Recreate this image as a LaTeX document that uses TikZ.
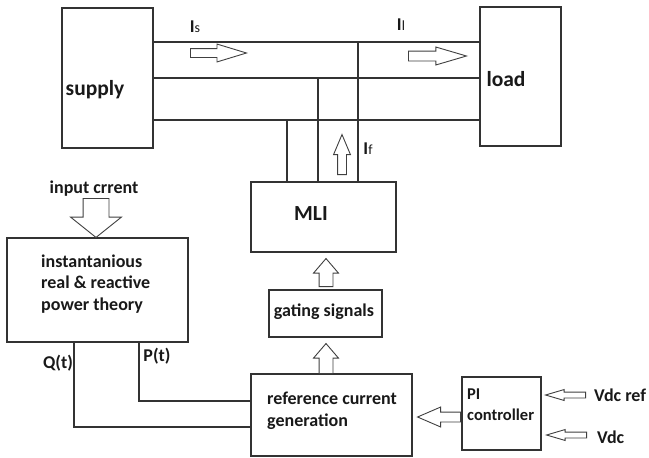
\documentclass[tikz,border=0pt]{standalone}
\usepackage{fontspec}
\setmainfont{Carlito}
\usetikzlibrary{shapes.arrows}
\tikzset{
  box/.style={draw=black!80, line width=1.2pt, anchor=north west, inner sep=0pt, outer sep=0pt},
  wire/.style={draw=black!80, line width=1.1pt},
  lbl/.style={font=\bfseries\fontsize{18}{21.7}\selectfont, inner sep=0pt, text=black!90},
  big/.style={font=\bfseries\fontsize{21.5}{24}\selectfont, inner sep=0pt, text=black!90},
  hollow/.style n args={4}{single arrow, draw=black!75, line width=0.9pt, fill=white,
    inner xsep=0pt, inner ysep=#1, single arrow head extend=#2,
    single arrow tip angle=#3, minimum height=#4, anchor=tail}
}
\begin{document}
\begin{tikzpicture}[x=1pt, y=-1pt]
  \useasboundingbox[fill=white] (0,0) rectangle (649,458);
  % blocks
  \node[box, minimum width=91pt, minimum height=140pt] (supply) at (62,8) {};
  \node[box, minimum width=81pt, minimum height=139pt] (load) at (480,7) {};
  \node[box, minimum width=145pt, minimum height=70pt] (mli) at (251,182) {};
  \node[box, minimum width=113pt, minimum height=47pt] (gate) at (269,290) {};
  \node[box, minimum width=161pt, minimum height=82pt] (ref) at (251,374) {};
  \node[box, minimum width=79pt, minimum height=73pt] (pi) at (462,377) {};
  \node[box, minimum width=181pt, minimum height=104pt] (theory) at (7,238) {};
  % texts
  \node[big] (supplytxt) at (95,90) {supply};
  \node[big] (loadtxt) at (506,79) {load};
  \node[big] (mlitxt) at (311,214) {MLI};
  \node[lbl, align=left, anchor=west] (theorytxt) at (41,284) {instantanious\\real \& reactive\\power theory};
  \node[lbl] (gatetxt) at (324,312) {gating signals};
  \node[lbl, align=left, anchor=west] (reftxt) at (267,411) {reference current\\generation};
  \node[lbl, align=left, anchor=west, font=\bfseries\fontsize{16.5}{21}\selectfont] (pitxt) at (467,405) {PI\\controller};
  \node[lbl] (intxt) at (94,189) {input crrent};
  \node[lbl] (qtxt) at (58,363) {Q(t)};
  \node[lbl] (ptxt) at (157,356) {P(t)};
  \node[lbl, anchor=west] (vreftxt) at (594,395) {Vdc ref};
  \node[lbl, anchor=west] (vdctxt) at (597,437) {Vdc};
  \node[lbl] (istxt) at (195,27) {I{\mdseries\fontsize{14}{14}\selectfont s}};
  \node[lbl] (iltxt) at (401,25) {I{\mdseries\fontsize{14}{14}\selectfont l}};
  \node[lbl] (iftxt) at (368,149) {I{\mdseries\fontsize{14}{14}\selectfont f}};
  % lines between supply and load
  \coordinate (ytop) at (0,42);
  \coordinate (ymid) at (0,78);
  \coordinate (ybot) at (0,120);
  \draw[wire] (supply.east |- ytop) -- (load.west |- ytop);
  \draw[wire] (supply.east |- ymid) -- (load.west |- ymid);
  \draw[wire] (supply.east |- ybot) -- (load.west |- ybot);
  % MLI taps
  \coordinate (xa) at (287,0);
  \coordinate (xb) at (318,0);
  \coordinate (xc) at (358,0);
  \draw[wire] (mli.north -| xa) -- (xa |- ybot);
  \draw[wire] (mli.north -| xb) -- (xb |- ymid);
  \draw[wire] (mli.north -| xc) -- (xc |- ytop);
  % Q(t) and P(t)
  \coordinate (xq) at (74,0);
  \coordinate (xp) at (139,0);
  \coordinate (yq) at (0,427);
  \coordinate (yp) at (0,401);
  \draw[wire] (theory.south -| xq) |- (ref.west |- yq);
  \draw[wire] (theory.south -| xp) |- (ref.west |- yp);
  % hollow arrows
  \node[hollow={4pt}{4.5pt}{33.8}{56pt}] (arIs) at (190,53) {};
  \node[hollow={4.5pt}{4pt}{32.7}{58pt}] (arIl) at (408,56) {};
  \node[hollow={4pt}{4pt}{45.7}{40pt}, rotate=90] (arIf) at (342,175) {};
  \node[hollow={12.5pt}{12.5pt}{102.7}{39pt}, rotate=270] (arin) at (96,198) {};
  \node[hollow={6.5pt}{5.5pt}{81.3}{28pt}, rotate=90] (argate) at (326,287) {};
  \node[hollow={6.5pt}{5.5pt}{81.3}{30pt}, rotate=90] (arref) at (326,374) {};
  \node[hollow={4.5pt}{5pt}{46.7}{43pt}, rotate=180] (arpi) at (461,417) {};
  \node[hollow={2.5pt}{2.5pt}{32.8}{40pt}, rotate=180] (arvref) at (586,395) {};
  \node[hollow={2.5pt}{2.5pt}{32.8}{40pt}, rotate=180] (arvdc) at (587,435) {};
\end{tikzpicture}
\end{document}
